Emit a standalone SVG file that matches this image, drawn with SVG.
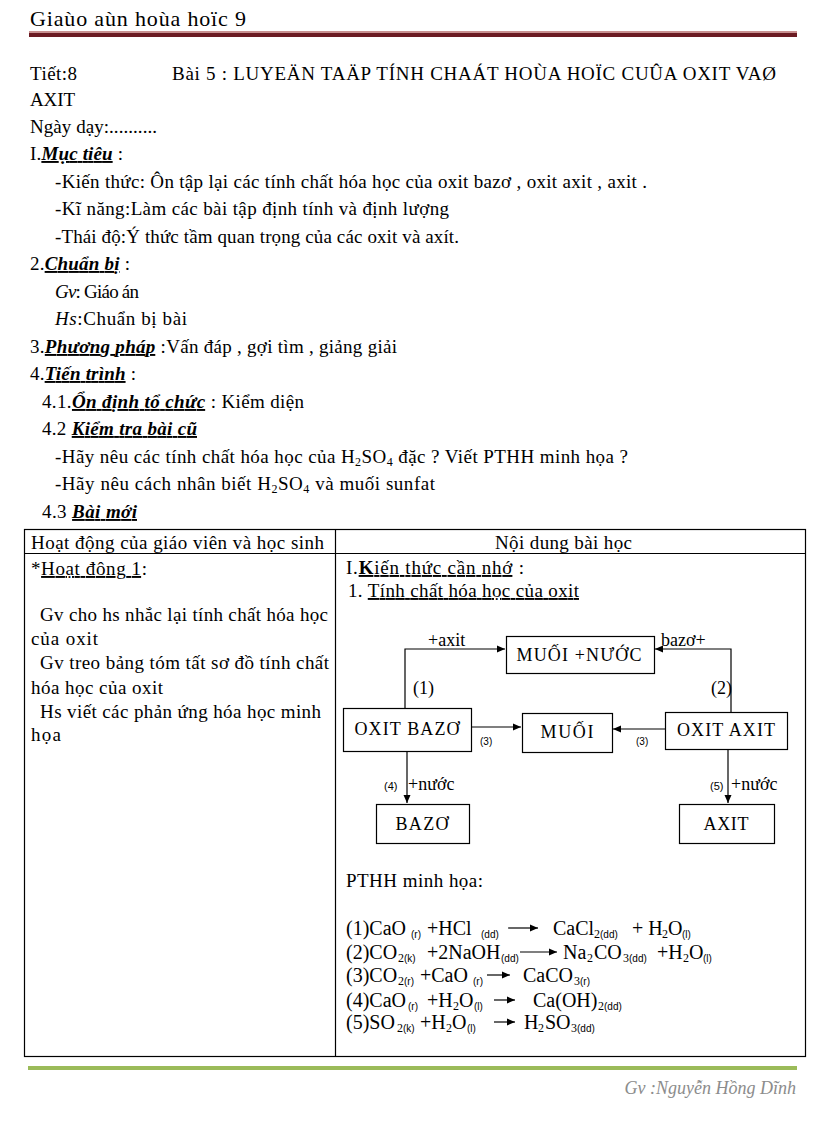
<svg xmlns="http://www.w3.org/2000/svg" width="816" height="1123" viewBox="0 0 816 1123">
<style>
text{font-family:"Liberation Serif","DejaVu Serif",serif;font-size:19px;fill:#000}
.bi{font-weight:bold;font-style:italic;text-decoration:underline}
.i{font-style:italic}
.u{text-decoration:underline}
.b{font-weight:bold}
.sub{font-size:12px}
.st{font-family:"Liberation Sans","DejaVu Sans",sans-serif;font-size:10px}
.eq{font-size:20px}
.sm{font-family:"Liberation Sans","DejaVu Sans",sans-serif;font-size:10px}
.box{fill:#fff;stroke:#000;stroke-width:1.2}
.ln{fill:none;stroke:#000;stroke-width:1.2}
.mid{text-anchor:middle}
</style>
<defs>
<marker id="ah" markerUnits="userSpaceOnUse" markerWidth="9" markerHeight="8" refX="8" refY="4" orient="auto">
<path d="M0,0.5 L8,4 L0,7.5 z" fill="#000"/>
</marker>
</defs>
<rect x="0" y="0" width="816" height="1123" fill="#fff"/>

<g id="header">
<text x="30" y="26" textLength="216" lengthAdjust="spacing" style="font-size:22px">Giaùo aùn hoùa hoïc 9</text>
<rect x="29" y="31" width="768" height="2" fill="#c89090"/>
<rect x="29" y="33" width="768" height="4" fill="#6b1a22"/>
</g>

<g id="intro">
<text x="30" y="80" textLength="47" lengthAdjust="spacing">Tiết:8</text>
<text x="172" y="80" textLength="604" lengthAdjust="spacing">Bài 5 : LUYEÄN TAÄP TÍNH CHAÁT HOÙA HOÏC CUÛA OXIT VAØ</text>
<text x="30" y="106" textLength="45" lengthAdjust="spacing">AXIT</text>
<text x="30" y="133" textLength="127" lengthAdjust="spacing">Ngày dạy:..........</text>
<text x="30" y="160" textLength="93" lengthAdjust="spacing">I.<tspan class="bi">Mục tiêu</tspan> :</text>
<text x="55" y="188" textLength="592" lengthAdjust="spacing">-Kiến thức: Ôn tập lại các tính chất hóa học của oxit bazơ , oxit axit , axit .</text>
<text x="55" y="215" textLength="394" lengthAdjust="spacing">-Kĩ năng:Làm các bài tập định tính và định lượng</text>
<text x="55" y="243" textLength="404" lengthAdjust="spacing">-Thái độ:Ý thức tầm quan trọng của các oxit và axít.</text>
<text x="30" y="270" textLength="100" lengthAdjust="spacing">2.<tspan class="bi">Chuẩn bị</tspan> :</text>
<text x="55" y="298" textLength="84" lengthAdjust="spacing"><tspan class="i">Gv</tspan>: Giáo án</text>
<text x="55" y="325" textLength="132" lengthAdjust="spacing"><tspan class="i">Hs</tspan>:Chuẩn bị bài</text>
<text x="30" y="353" textLength="367" lengthAdjust="spacing">3.<tspan class="bi">Phương pháp</tspan> :Vấn đáp , gợi tìm , giảng giải</text>
<text x="30" y="380" textLength="106" lengthAdjust="spacing">4.<tspan class="bi">Tiến trình</tspan> :</text>
<text x="42" y="408" textLength="262" lengthAdjust="spacing">4.1.<tspan class="bi">Ổn định tổ chức</tspan> : Kiểm diện</text>
<text x="42" y="435" textLength="155" lengthAdjust="spacing">4.2 <tspan class="bi">Kiểm tra bài cũ</tspan></text>
<text x="55" y="463" textLength="573" lengthAdjust="spacing">-Hãy nêu các tính chất hóa học của H<tspan class="sub" dy="3">2</tspan><tspan dy="-3">SO</tspan><tspan class="sub" dy="3">4</tspan><tspan dy="-3"> đặc ? Viết PTHH minh họa ?</tspan></text>
<text x="55" y="490" textLength="380" lengthAdjust="spacing">-Hãy nêu cách nhân biết H<tspan class="sub" dy="3">2</tspan><tspan dy="-3">SO</tspan><tspan class="sub" dy="3">4</tspan><tspan dy="-3"> và muối sunfat</tspan></text>
<text x="42" y="518" textLength="95" lengthAdjust="spacing">4.3 <tspan class="bi">Bài mới</tspan></text>
</g>

<g id="table">
<rect x="24.5" y="529.5" width="781" height="527" fill="none" stroke="#000" stroke-width="1.2"/>
<line x1="24.5" y1="553.5" x2="805.5" y2="553.5" stroke="#000" stroke-width="1.2"/>
<line x1="335.5" y1="529.5" x2="335.5" y2="1056.5" stroke="#000" stroke-width="1.2"/>
<text x="31" y="549" textLength="293" lengthAdjust="spacing">Hoạt động của giáo viên và học sinh</text>
<text x="495" y="549" textLength="137" lengthAdjust="spacing">Nội dung bài học</text>
</g>

<g id="left-col">
<text x="31" y="575" textLength="116" lengthAdjust="spacing">*<tspan class="u">Hoạt đông 1</tspan>:</text>
<text x="40" y="621" textLength="288" lengthAdjust="spacing">Gv cho hs nhắc lại tính chất hóa học</text>
<text x="31" y="645" textLength="67" lengthAdjust="spacing">của oxit</text>
<text x="40" y="669" textLength="289" lengthAdjust="spacing">Gv treo bảng tóm tất sơ đồ tính chất</text>
<text x="31" y="694" textLength="132" lengthAdjust="spacing">hóa học của oxit</text>
<text x="40" y="718" textLength="281" lengthAdjust="spacing">Hs viết các phản ứng hóa học minh</text>
<text x="31" y="741" textLength="30" lengthAdjust="spacing">họa</text>
</g>

<g id="right-col">
<text x="346" y="574" textLength="178" lengthAdjust="spacing">I.<tspan class="u"><tspan class="b">K</tspan>iến thức cần nhớ</tspan> :</text>
<text x="348" y="597" textLength="231" lengthAdjust="spacing">1. <tspan class="u">Tính chất hóa học của oxit</tspan></text>
</g>

<g id="connectors">
<path class="ln" d="M405,708 V649 H505" marker-end="url(#ah)"/>
<path class="ln" d="M731,712 V649 H655" marker-end="url(#ah)"/>
<path class="ln" d="M472,727 H521" marker-end="url(#ah)"/>
<path class="ln" d="M665,729 H613" marker-end="url(#ah)"/>
<path class="ln" d="M407,751 V803" marker-end="url(#ah)"/>
<path class="ln" d="M728,749 V803" marker-end="url(#ah)"/>
<text x="428" y="646" style="font-size:18px">+axit</text>
<text x="661" y="646" style="font-size:18px">bazơ+</text>
<text x="413" y="694" style="font-size:18px">(1)</text>
<text x="711" y="694" style="font-size:18px">(2)</text>
<text class="sm" x="480" y="745">(3)</text>
<text class="sm" x="636" y="745">(3)</text>
<text class="sm" x="384" y="790" style="font-size:11px">(4)</text>
<text x="408" y="790" style="font-size:18px">+nước</text>
<text class="sm" x="710" y="790" style="font-size:11px">(5)</text>
<text x="731" y="790" style="font-size:18px">+nước</text>
</g>

<g id="n-muoi-nuoc">
<rect class="box" x="506.5" y="636.5" width="148" height="37"/>
<text class="mid" x="579" y="661" textLength="125" lengthAdjust="spacing" style="font-size:18px">MUỐI +NƯỚC</text>
</g>
<g id="n-oxit-bazo">
<rect class="box" x="343.5" y="708.5" width="128" height="43"/>
<text class="mid" x="407" y="735" textLength="105" lengthAdjust="spacing" style="font-size:18px">OXIT BAZƠ</text>
</g>
<g id="n-muoi">
<rect class="box" x="522.5" y="713.5" width="90" height="39"/>
<text class="mid" x="567" y="738" textLength="53" lengthAdjust="spacing" style="font-size:18px">MUỐI</text>
</g>
<g id="n-oxit-axit">
<rect class="box" x="665.5" y="712.5" width="122" height="37"/>
<text class="mid" x="726" y="736" textLength="98" lengthAdjust="spacing" style="font-size:18px">OXIT AXIT</text>
</g>
<g id="n-bazo">
<rect class="box" x="376.5" y="804.5" width="93" height="39"/>
<text class="mid" x="422" y="830" textLength="53" lengthAdjust="spacing" style="font-size:18px">BAZƠ</text>
</g>
<g id="n-axit">
<rect class="box" x="679.5" y="804.5" width="95" height="39"/>
<text class="mid" x="726" y="830" textLength="45" lengthAdjust="spacing" style="font-size:18px">AXIT</text>
</g>

<g id="equations">
<text x="346" y="887" textLength="137" lengthAdjust="spacing">PTHH minh họa:</text>

<text class="eq" y="935"><tspan x="346">(1)CaO</tspan><tspan class="st" x="411" y="938">(r)</tspan><tspan x="427" y="935">+HCl</tspan><tspan class="st" x="481" y="938">(dd)</tspan><tspan x="553" y="935">CaCl</tspan><tspan class="sub" x="594" y="938">2</tspan><tspan class="st" x="600" y="938">(dd)</tspan><tspan x="632" y="935">+ H</tspan><tspan class="sub" x="662" y="938">2</tspan><tspan x="668" y="935">O</tspan><tspan class="st" x="682" y="938">(l)</tspan></text>
<path class="ln" d="M508,928 H538" marker-end="url(#ah)"/>

<text class="eq" y="959"><tspan x="346">(2)CO</tspan><tspan class="sub" x="398" y="962">2</tspan><tspan class="st" x="404" y="962">(k)</tspan><tspan x="427" y="959">+2NaOH</tspan><tspan class="st" x="501" y="962">(dd)</tspan><tspan x="563" y="959">Na</tspan><tspan class="sub" x="587" y="962">2</tspan><tspan x="594" y="959">CO</tspan><tspan class="sub" x="623" y="962">3</tspan><tspan class="st" x="629" y="962">(dd)</tspan><tspan x="657" y="959">+H</tspan><tspan class="sub" x="683" y="962">2</tspan><tspan x="689" y="959">O</tspan><tspan class="st" x="703" y="962">(l)</tspan></text>
<path class="ln" d="M520,952 H557" marker-end="url(#ah)"/>

<text class="eq" y="982"><tspan x="346">(3)CO</tspan><tspan class="sub" x="398" y="985">2</tspan><tspan class="st" x="404" y="985">(r)</tspan><tspan x="420" y="982">+CaO</tspan><tspan class="st" x="473" y="985">(r)</tspan><tspan x="523" y="982">CaCO</tspan><tspan class="sub" x="574" y="985">3</tspan><tspan class="st" x="580" y="985">(r)</tspan></text>
<path class="ln" d="M487,975 H510" marker-end="url(#ah)"/>

<text class="eq" y="1007"><tspan x="346">(4)CaO</tspan><tspan class="st" x="408" y="1010">(r)</tspan><tspan x="427" y="1007">+H</tspan><tspan class="sub" x="453" y="1010">2</tspan><tspan x="459" y="1007">O</tspan><tspan class="st" x="474" y="1010">(l)</tspan><tspan x="533" y="1007">Ca(OH)</tspan><tspan class="sub" x="598" y="1010">2</tspan><tspan class="st" x="604" y="1010">(dd)</tspan></text>
<path class="ln" d="M494,1000 H515" marker-end="url(#ah)"/>

<text class="eq" y="1029"><tspan x="346">(5)SO</tspan><tspan class="sub" x="397" y="1032">2</tspan><tspan class="st" x="403" y="1032">(k)</tspan><tspan x="420" y="1029">+H</tspan><tspan class="sub" x="446" y="1032">2</tspan><tspan x="452" y="1029">O</tspan><tspan class="st" x="467" y="1032">(l)</tspan><tspan x="524" y="1029">H</tspan><tspan class="sub" x="538" y="1032">2</tspan><tspan x="545" y="1029">SO</tspan><tspan class="sub" x="571" y="1032">3</tspan><tspan class="st" x="577" y="1032">(dd)</tspan></text>
<path class="ln" d="M494,1022 H515" marker-end="url(#ah)"/>
</g>

<g id="footer">
<rect x="28" y="1066" width="769" height="4" fill="#9bbb59"/>
<text x="796" y="1094" text-anchor="end" style="font-style:italic;fill:#8c8c8c;font-size:18px">Gv :Nguyễn Hồng Dĩnh</text>
</g>
</svg>
